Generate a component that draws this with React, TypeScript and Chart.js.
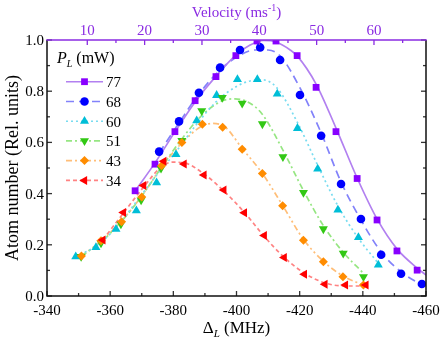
import React, { useEffect, useRef } from 'react';
import { Chart, registerables } from 'chart.js';
import { drawPoint } from 'chart.js/helpers';

Chart.register(...registerables);

// ---------- data ----------
const seriesLabels = ['77', '68', '60', '51', '43', '34'];

// measured points (detuning in MHz, atom number in rel. units)
const p77x = [-367.9, -374.2, -380.5, -386.9, -393.5, -399.8, -406.5, -412.5, -419.2, -425.2, -431.5, -438.2, -444.5, -450.8, -457.2];
const p77y = [0.411, 0.515, 0.642, 0.763, 0.857, 0.939, 0.996, 0.996, 0.939, 0.815, 0.642, 0.459, 0.297, 0.176, 0.101];

const p68x = [-375.5, -381.8, -388.1, -394.8, -401.1, -407.5, -413.8, -420.1, -426.8, -433.1, -439.4, -445.8, -452.1, -458.7];
const p68y = [0.564, 0.682, 0.794, 0.892, 0.961, 0.971, 0.922, 0.785, 0.626, 0.4375, 0.301, 0.161, 0.087, 0.047];

const p60x = [-349.1, -355.5, -361.85, -368.3, -374.7, -380.85, -387.4, -393.7, -400.3, -406.6, -412.9, -419.3, -425.7, -432.1, -438.6, -444.9];
const p60y = [0.1535, 0.19, 0.261, 0.333, 0.443, 0.553, 0.685, 0.784, 0.846, 0.846, 0.789, 0.655, 0.496, 0.336, 0.2285, 0.121];

const p51x = [-350.8, -357.1, -363.4, -369.8, -376.1, -382.7, -389.0, -395.5, -401.8, -408.2, -414.7, -421.2, -427.5, -433.8, -440.2];
const p51y = [0.154, 0.207, 0.281, 0.375, 0.499, 0.607, 0.723, 0.775, 0.753, 0.672, 0.544, 0.404, 0.262, 0.167, 0.075];

const p43x = [-350.9, -357.1, -363.6, -370.0, -376.3, -382.7, -389.2, -395.6, -401.8, -408.2, -414.6, -421.2, -427.5, -433.7, -440.2];
const p43y = [0.156, 0.216, 0.29, 0.387, 0.509, 0.6, 0.671, 0.659, 0.573, 0.479, 0.353, 0.218, 0.134, 0.075, 0.043];

const p34x = [-357.7, -364.2, -370.6, -377.0, -383.4, -389.7, -396.0, -402.5, -408.8, -415.1, -421.5, -428.0, -434.5, -441.0];
const p34y = [0.219, 0.326, 0.432, 0.526, 0.516, 0.473, 0.414, 0.325, 0.236, 0.15, 0.085, 0.046, 0.043, 0.043];

// fitted curves
const f77x = [-367.9, -374.2, -380.5, -386.9, -393.5, -399.8, -404.3, -408.4, -412.5, -417.0, -419.2, -425.2, -431.5, -438.2, -444.5, -450.8, -457.2, -460.0];
const f77y = [0.41, 0.52, 0.641, 0.758, 0.859, 0.941, 0.98, 0.998, 0.992, 0.961, 0.938, 0.828, 0.656, 0.461, 0.301, 0.184, 0.109, 0.082];

const f68x = [-375.5, -381.8, -388.1, -394.8, -401.1, -405.9, -410.0, -413.8, -420.1, -426.8, -433.1, -439.4, -445.8, -452.1, -458.7];
const f68y = [0.559, 0.676, 0.789, 0.883, 0.941, 0.961, 0.961, 0.938, 0.813, 0.637, 0.445, 0.297, 0.172, 0.094, 0.043];

const f60x = [-349.1, -355.5, -361.8, -368.2, -374.5, -380.8, -387.2, -393.5, -400.2, -404.3, -408.4, -412.8, -419.2, -425.5, -432.1, -438.5, -444.8];
const f60y = [0.154, 0.195, 0.266, 0.367, 0.469, 0.563, 0.668, 0.758, 0.82, 0.84, 0.844, 0.813, 0.68, 0.516, 0.352, 0.227, 0.129];

const f51x = [-350.8, -357.1, -363.4, -369.8, -376.1, -382.4, -388.8, -395.4, -399.5, -403.6, -408.1, -414.7, -421.1, -427.4, -433.7, -440.1];
const f51y = [0.156, 0.211, 0.289, 0.387, 0.5, 0.609, 0.703, 0.762, 0.77, 0.758, 0.711, 0.57, 0.414, 0.277, 0.172, 0.09];

const f43x = [-350.9, -357.1, -363.6, -370.0, -376.3, -382.7, -389.1, -392.6, -396.4, -401.7, -408.1, -414.7, -421.1, -427.4, -433.7, -440.1];
const f43y = [0.156, 0.215, 0.293, 0.391, 0.504, 0.598, 0.664, 0.674, 0.66, 0.578, 0.48, 0.352, 0.223, 0.137, 0.078, 0.043];

const f34x = [-357.7, -364.2, -370.6, -375.8, -379.6, -383.4, -389.7, -396.0, -402.4, -408.7, -415.0, -421.4, -428.0, -434.4, -441.0];
const f34y = [0.219, 0.324, 0.426, 0.5, 0.523, 0.52, 0.477, 0.41, 0.328, 0.234, 0.152, 0.09, 0.051, 0.039, 0.039];

// axes / ticks
const xMajorTicks = [-340, -360, -380, -400, -420, -440, -460];
const xMinorTicks = [-350, -370, -390, -410, -430, -450];
const yMajorTicks = [0, 0.2, 0.4, 0.6, 0.8, 1.0];
const yMinorTicks = [0.1, 0.3, 0.5, 0.7, 0.9];
const vMajorTicks = [10, 20, 30, 40, 50, 60];
const vMinorTicks = [15, 25, 35, 45, 55, 65];
const xMin = -460;
const xMax = -340;
// velocity axis: detuning = DELTA0 + MHZ_PER_VEL * v
const DELTA0 = -334.6;
const MHZ_PER_VEL = -1.8155;

// ---------- styles ----------
const FONT = "'Liberation Serif', 'Times New Roman', serif";
const PURPLE = 'rgb(138,43,226)';
const styles = [
  { marker: 'rgb(136,0,255)', line: 'rgb(178,128,240)', dash: [], style: 'rect', rot: 0, r: 4.8 },
  { marker: 'rgb(0,0,255)', line: 'rgb(130,130,250)', dash: [8, 5], style: 'circle', rot: 0, r: 4.3 },
  { marker: 'rgb(0,190,215)', line: 'rgb(120,220,240)', dash: [2, 3], style: 'triangle', rot: 0, r: 5.2 },
  { marker: 'rgb(50,200,20)', line: 'rgb(150,230,130)', dash: [6, 3, 2, 3], style: 'triangle', rot: 180, r: 5.2 },
  { marker: 'rgb(255,140,0)', line: 'rgb(255,190,120)', dash: [6, 3, 2, 3, 2, 3], style: 'rectRot', rot: 0, r: 4.5 },
  { marker: 'rgb(255,0,0)', line: 'rgb(255,130,130)', dash: [4, 3], style: 'triangle', rot: -90, r: 5.2 },
];

const pointSets = [
  [p77x, p77y], [p68x, p68y], [p60x, p60y], [p51x, p51y], [p43x, p43y], [p34x, p34y],
];
const fitSets = [
  [f77x, f77y], [f68x, f68y], [f60x, f60y], [f51x, f51y], [f43x, f43y], [f34x, f34y],
];

const zip = (xs: number[], ys: number[]) => xs.map((x, i) => ({ x, y: ys[i] }));

type Part = { text: string; font: string; dy?: number };
function drawParts(ctx: CanvasRenderingContext2D, parts: Part[], x: number, y: number, center: boolean) {
  let total = 0;
  parts.forEach((p) => {
    ctx.font = p.font;
    total += ctx.measureText(p.text).width;
  });
  let cx = center ? x - total / 2 : x;
  ctx.textAlign = 'left';
  parts.forEach((p) => {
    ctx.font = p.font;
    ctx.fillText(p.text, cx, y + (p.dy || 0));
    cx += ctx.measureText(p.text).width;
  });
}

const framePlugin = {
  id: 'frame',
  afterDatasetsDraw(chart: any) {
    const ctx: CanvasRenderingContext2D = chart.ctx;
    const { left, right, top, bottom } = chart.chartArea;
    const xs = chart.scales.x;
    const ys = chart.scales.y;
    const vs = chart.scales.x2;
    ctx.save();
    ctx.setLineDash([]);
    ctx.lineWidth = 1.3;

    const tick = (x1: number, y1: number, x2: number, y2: number, color: string) => {
      ctx.strokeStyle = color;
      ctx.beginPath();
      ctx.moveTo(x1, y1);
      ctx.lineTo(x2, y2);
      ctx.stroke();
    };
    const dark = '#333';
    xMajorTicks.forEach((v) => tick(xs.getPixelForValue(v), bottom, xs.getPixelForValue(v), bottom - 5, dark));
    xMinorTicks.forEach((v) => tick(xs.getPixelForValue(v), bottom, xs.getPixelForValue(v), bottom - 3, dark));
    yMajorTicks.forEach((v) => {
      const y = ys.getPixelForValue(v);
      tick(left, y, left + 5, y, dark);
      tick(right, y, right - 5, y, dark);
    });
    yMinorTicks.forEach((v) => {
      const y = ys.getPixelForValue(v);
      tick(left, y, left + 3, y, dark);
      tick(right, y, right - 3, y, dark);
    });
    vMajorTicks.forEach((v) => tick(vs.getPixelForValue(v), top, vs.getPixelForValue(v), top + 5, PURPLE));
    vMinorTicks.forEach((v) => tick(vs.getPixelForValue(v), top, vs.getPixelForValue(v), top + 3, PURPLE));

    ctx.lineWidth = 1.5;
    ctx.strokeStyle = '#111';
    ctx.beginPath();
    ctx.moveTo(left, top);
    ctx.lineTo(left, bottom);
    ctx.lineTo(right, bottom);
    ctx.lineTo(right, top);
    ctx.stroke();
    ctx.strokeStyle = PURPLE;
    ctx.beginPath();
    ctx.moveTo(left - 0.75, top);
    ctx.lineTo(right + 0.75, top);
    ctx.stroke();

    const tf = `15px ${FONT}`;
    ctx.font = tf;
    ctx.fillStyle = '#000';
    ctx.textBaseline = 'alphabetic';
    ctx.textAlign = 'center';
    xMajorTicks.forEach((v) => ctx.fillText(String(v), xs.getPixelForValue(v), bottom + 19));
    ctx.textAlign = 'right';
    yMajorTicks.forEach((v) => ctx.fillText(v.toFixed(1), left - 3, ys.getPixelForValue(v) + 5));
    ctx.fillStyle = PURPLE;
    ctx.textAlign = 'center';
    vMajorTicks.forEach((v) => ctx.fillText(String(v), vs.getPixelForValue(v), top - 5.5));

    ctx.fillStyle = '#000';
    drawParts(
      ctx,
      [
        { text: 'Δ', font: `17px ${FONT}` },
        { text: 'L', font: `italic 11px ${FONT}`, dy: 4 },
        { text: ' (MHz)', font: `17px ${FONT}` },
      ],
      (left + right) / 2,
      bottom + 37,
      true
    );
    ctx.fillStyle = PURPLE;
    drawParts(
      ctx,
      [
        { text: 'Velocity (ms', font: `15px ${FONT}` },
        { text: '-1', font: `10px ${FONT}`, dy: -6 },
        { text: ')', font: `15px ${FONT}` },
      ],
      (left + right) / 2,
      17,
      true
    );
    ctx.fillStyle = '#000';
    ctx.save();
    ctx.translate(18, (top + bottom) / 2);
    ctx.rotate(-Math.PI / 2);
    ctx.font = `18px ${FONT}`;
    ctx.textAlign = 'center';
    ctx.fillText('Atom number (Rel. units)', 0, 0);
    ctx.restore();

    drawParts(
      ctx,
      [
        { text: 'P', font: `italic 16px ${FONT}` },
        { text: 'L', font: `italic 10px ${FONT}`, dy: 4 },
        { text: ' (mW)', font: `16px ${FONT}` },
      ],
      57,
      63,
      false
    );
    const rows = [81.7, 101.5, 121.2, 140.9, 160.6, 180.4];
    styles.forEach((s, i) => {
      const y = rows[i];
      ctx.save();
      ctx.strokeStyle = s.line;
      ctx.lineWidth = 1.6;
      ctx.setLineDash(s.dash);
      ctx.beginPath();
      ctx.moveTo(66, y);
      ctx.lineTo(103, y);
      ctx.stroke();
      ctx.restore();
      ctx.fillStyle = s.marker;
      drawPoint(ctx, { pointStyle: s.style as any, rotation: s.rot, radius: s.r, borderWidth: 0 } as any, 84.5, y);
      ctx.fillStyle = '#000';
      ctx.font = `15px ${FONT}`;
      ctx.textAlign = 'left';
      ctx.fillText(seriesLabels[i], 106, y + 5.5);
    });
    ctx.restore();
  },
};

export default function App() {
  const ref = useRef<HTMLCanvasElement | null>(null);
  useEffect(() => {
    document.body.style.margin = '0';
    if (!ref.current) return;
    const datasets: any[] = [];
    styles.forEach((s, i) => {
      datasets.push({
        type: 'line',
        label: seriesLabels[i] + ' fit',
        data: zip(fitSets[i][0], fitSets[i][1]),
        borderColor: s.line,
        borderWidth: 1.7,
        borderDash: s.dash,
        pointRadius: 0,
        fill: false,
        cubicInterpolationMode: 'monotone',
        order: 20 + i,
      });
      datasets.push({
        type: 'scatter',
        label: seriesLabels[i],
        data: zip(pointSets[i][0], pointSets[i][1]),
        showLine: false,
        pointStyle: s.style,
        rotation: s.rot,
        pointRadius: s.r,
        pointBackgroundColor: s.marker,
        pointBorderColor: s.marker,
        pointBorderWidth: 0,
        order: 10 - i,
      });
    });
    const vLeft = (xMax - DELTA0) / MHZ_PER_VEL;
    const vRight = (xMin - DELTA0) / MHZ_PER_VEL;
    const chart = new Chart(ref.current, {
      type: 'scatter',
      data: { datasets },
      options: {
        animation: false,
        responsive: false,
        layout: { padding: { left: 47, right: 17, top: 40, bottom: 48 } },
        plugins: { legend: { display: false }, tooltip: { enabled: false } },
        scales: {
          x: { type: 'linear', min: xMin, max: xMax, reverse: true, display: false },
          x2: { type: 'linear', min: vLeft, max: vRight, display: false, position: 'top' },
          y: { type: 'linear', min: 0, max: 1, display: false },
        },
      } as any,
      plugins: [framePlugin],
    });
    return () => chart.destroy();
  }, []);
  return (
    <div style={{ width: 443, height: 344, background: '#fff' }}>
      <canvas ref={ref} width={443} height={344} style={{ display: 'block' }} />
    </div>
  );
}
